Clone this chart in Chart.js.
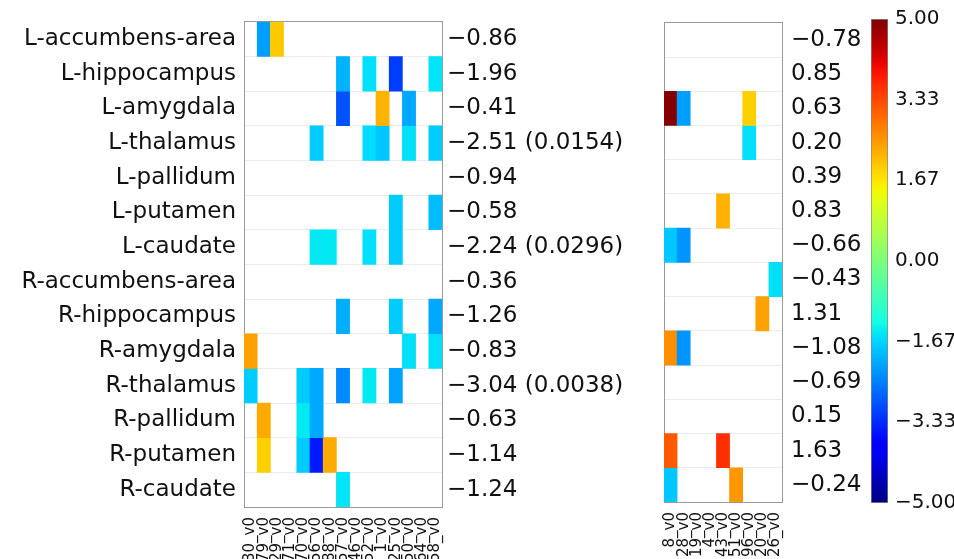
<!DOCTYPE html>
<html lang="en">
<head>
    <meta charset="UTF-8">
    <title>heatmap</title>
    <style>
        html, body { margin: 0; padding: 0; width: 954px; height: 559px; overflow: hidden; background: #fff; }
        canvas { position: absolute; top: 0; }
    </style>
</head>
<body>
<script src="https://cdn.jsdelivr.net/npm/chart.js@4.4.0/dist/chart.umd.min.js"></script>

<canvas id="left" width="640" height="567" style="left:0"></canvas>
<canvas id="right" width="225" height="567" style="left:640px"></canvas>
<canvas id="cbar" width="89" height="559" style="left:865px"></canvas>
<script>
    const _ = null
    const rowNames = ['L-accumbens-area', 'L-hippocampus', 'L-amygdala', 'L-thalamus', 'L-pallidum', 'L-putamen', 'L-caudate',
        'R-accumbens-area', 'R-hippocampus', 'R-amygdala', 'R-thalamus', 'R-pallidum', 'R-putamen', 'R-caudate']
    const leftCols = ['30_v0', '79_v0', '29_v0', '71_v0', '70_v0', '56_v0', '88_v0', '57_v0', '46_v0', '52_v0', '1_v0', '25_v0', '50_v0', '64_v0', '58_v0']
    const rightCols = ['8_v0', '28_v0', '19_v0', '4_v0', '43_v0', '51_v0', '96_v0', '20_v0', '26_v0']

    const leftCells = [
        [_, -2.2, 1.95, _, _, _, _, _, _, _, _, _, _, _, _],
        [_, _, _, _, _, _, _, -2.0, _, -1.55, _, -3.15, _, _, -1.5],
        [_, _, _, _, _, _, _, -2.95, _, _, 2.2, _, -2.1, _, _],
        [_, _, _, _, _, -1.75, _, _, _, -1.6, -1.8, _, -1.55, _, -1.75],
        [_, _, _, _, _, _, _, _, _, _, _, _, _, _, _],
        [_, _, _, _, _, _, _, _, _, _, _, -1.75, _, _, -1.9],
        [_, _, _, _, _, -1.47, -1.47, _, _, -1.55, _, -1.75, _, _, _],
        [_, _, _, _, _, _, _, _, _, _, _, _, _, _, _],
        [_, _, _, _, _, _, _, -2.05, _, _, _, -1.75, _, _, -2.1],
        [2.4, _, _, _, _, _, _, _, _, _, _, _, -1.55, _, -1.55],
        [-1.75, _, _, _, -1.75, -2.1, _, -2.4, _, -1.47, _, -2.15, _, _, _],
        [_, 2.3, _, _, -1.47, -2.1, _, _, _, _, _, _, _, _, _],
        [_, 1.9, _, _, -1.75, -3.5, 2.3, _, _, _, _, _, _, _, _],
        [_, _, _, _, _, _, _, -1.5, _, _, _, _, _, _, _]
    ]
    const rightCells = [
        [_, _, _, _, _, _, _, _, _],
        [_, _, _, _, _, _, _, _, _],
        [4.95, -2.2, _, _, _, _, 1.9, _, _],
        [_, _, _, _, _, _, -1.55, _, _],
        [_, _, _, _, _, _, _, _, _],
        [_, _, _, _, 2.2, _, _, _, _],
        [-1.8, -2.3, _, _, _, _, _, _, _],
        [_, _, _, _, _, _, _, _, -1.55],
        [_, _, _, _, _, _, _, 2.4, _],
        [2.6, -2.3, _, _, _, _, _, _, _],
        [_, _, _, _, _, _, _, _, _],
        [_, _, _, _, _, _, _, _, _],
        [3.15, _, _, _, 3.6, _, _, _, _],
        [-1.8, _, _, _, _, 2.5, _, _, _]
    ]

    const leftT = [-0.86, -1.96, -0.41, -2.51, -0.94, -0.58, -2.24, -0.36, -1.26, -0.83, -3.04, -0.63, -1.14, -1.24]
    const leftP = [_, _, _, 0.0154, _, _, 0.0296, _, _, _, 0.0038, _, _, _]
    const rightT = [-0.78, 0.85, 0.63, 0.20, 0.39, 0.83, -0.66, -0.43, 1.31, -1.08, -0.69, 0.15, 1.63, -0.24]
    const cbTicks = [-5, -3.33, -1.67, 0, 1.67, 3.33, 5]
    const vmin = -5, vmax = 5

    Chart.defaults.font.family = 'DejaVu Sans'
    Chart.defaults.color = '#111'

    // matplotlib jet
    const jetR = [[0, 0], [0.35, 0], [0.66, 1], [0.89, 1], [1, 0.5]]
    const jetG = [[0, 0], [0.125, 0], [0.375, 1], [0.64, 1], [0.91, 0], [1, 0]]
    const jetB = [[0, 0.5], [0.11, 1], [0.34, 1], [0.65, 0], [1, 0]]

    function seg(pts, t) {
        for (let i = 1; i < pts.length; i++) {
            if (t <= pts[i][0]) {
                const [x0, y0] = pts[i - 1], [x1, y1] = pts[i]
                return y0 + (y1 - y0) * (t - x0) / (x1 - x0)
            }
        }
        return pts[pts.length - 1][1]
    }

    function jet(v) {
        if (v === null) return 'rgba(0,0,0,0)'
        const t = Math.min(1, Math.max(0, (v - vmin) / (vmax - vmin)))
        const c = [jetR, jetG, jetB].map(p => Math.round(seg(p, t) * 255))
        return `rgb(${c[0]},${c[1]},${c[2]})`
    }

    function fmt(v) {
        return (v < 0 ? '\u2212' : '') + Math.abs(v).toFixed(2)
    }

    const leftLabels = leftT.map((t, i) => fmt(t) + (leftP[i] !== null ? ' (' + leftP[i].toFixed(4) + ')' : ''))
    const rightLabels = rightT.map(fmt)

    function heatmap(id, cols, cells, valueLabels, opts) {
        const datasets = rowNames.map((name, r) => ({
            label: name,
            data: cols.map((c, j) => cells[r][j] === null ? null : [r, r + 1]),
            backgroundColor: cols.map((c, j) => jet(cells[r][j])),
            borderWidth: 0,
            grouped: false,
            barPercentage: 1,
            categoryPercentage: 1,
            xAxisID: 'x',
            yAxisID: 'y'
        }))
        const axisColor = '#9a9a9a'
        return new Chart(document.getElementById(id), {
            type: 'bar',
            data: {labels: cols, datasets: datasets},
            options: {
                responsive: false,
                animation: false,
                layout: {padding: {top: opts.top, left: 0, right: 0, bottom: 0}},
                plugins: {legend: {display: false}, tooltip: {enabled: false}},
                scales: {
                    x: {
                        type: 'category',
                        position: 'bottom',
                        grid: {display: false, drawTicks: false},
                        border: {display: true, color: axisColor},
                        ticks: {autoSkip: false, minRotation: 90, maxRotation: 90, padding: 10, font: {size: 15}},
                        afterFit: s => { s.height = opts.xHeight }
                    },
                    xt: {
                        type: 'category',
                        position: 'top',
                        labels: cols,
                        grid: {display: false, drawTicks: false},
                        border: {display: true, color: axisColor},
                        ticks: {display: false},
                        afterFit: s => { s.height = 0 }
                    },
                    y: {type: 'linear', min: 0, max: rowNames.length, reverse: true, display: false},
                    yl: {
                        type: 'category',
                        position: 'left',
                        labels: rowNames,
                        offset: true,
                        grid: {offset: true, color: '#ececec', drawTicks: false},
                        border: {display: true, color: axisColor},
                        ticks: {display: opts.showNames, padding: 8, font: {size: 23}},
                        afterFit: s => { s.width = opts.leftWidth }
                    },
                    yr: {
                        type: 'category',
                        position: 'right',
                        labels: valueLabels,
                        offset: true,
                        grid: {display: false, drawTicks: false},
                        border: {display: true, color: axisColor},
                        ticks: {padding: opts.valuePad, font: {size: 23}},
                        afterFit: s => { s.width = opts.rightWidth }
                    }
                }
            }
        })
    }

    heatmap('left', leftCols, leftCells, leftLabels,
        {top: 16, xHeight: 60, leftWidth: 244, rightWidth: 198, valuePad: 5, showNames: true})
    heatmap('right', rightCols, rightCells, rightLabels,
        {top: 15, xHeight: 65, leftWidth: 24, rightWidth: 83, valuePad: 9, showNames: false})

    // colorbar
    function jetGradient(ctx) {
        const area = ctx.chart.chartArea
        if (!area) return null
        const g = ctx.chart.ctx.createLinearGradient(0, area.bottom, 0, area.top)
        for (let i = 0; i <= 40; i++) {
            g.addColorStop(i / 40, jet(vmin + (vmax - vmin) * i / 40))
        }
        return g
    }

    new Chart(document.getElementById('cbar'), {
        type: 'bar',
        data: {
            labels: ['cb'],
            datasets: [{
                data: [[vmin, vmax]],
                backgroundColor: jetGradient,
                borderColor: '#888',
                borderWidth: 1,
                borderSkipped: false,
                barPercentage: 1,
                categoryPercentage: 1
            }]
        },
        options: {
            responsive: false,
            animation: false,
            layout: {padding: {top: 15, left: 6, right: 0, bottom: 56}},
            plugins: {legend: {display: false}, tooltip: {enabled: false}},
            scales: {
                x: {display: false},
                y: {
                    position: 'right',
                    min: vmin,
                    max: vmax,
                    afterBuildTicks: s => { s.ticks = cbTicks.map(v => ({value: v})) },
                    grid: {display: false, drawTicks: false},
                    border: {display: false},
                    ticks: {padding: 7, font: {size: 20}, callback: v => fmt(v)},
                    afterFit: s => { s.width = 66 }
                }
            }
        }
    });
</script>
</body>
</html>
